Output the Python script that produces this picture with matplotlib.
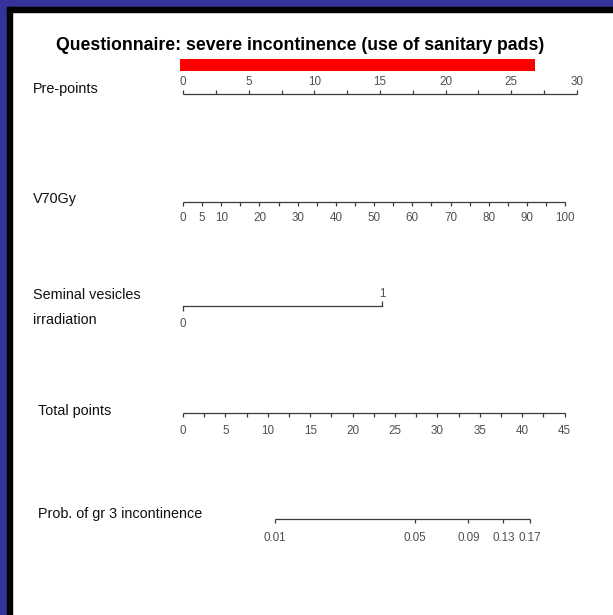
"""
Nomogram: severe incontinence (use of sanitary pads) after irradiation.

Each predictor is drawn on its own horizontal scale, converted to points,
summed into total points and mapped to a probability through the logistic
linear predictor.
"""

import matplotlib.pyplot as plt
from matplotlib.patches import Rectangle
import numpy as np

plt.rcParams["font.family"] = ["Liberation Sans", "DejaVu Sans"]

# =========================
# DATA
# =========================

TITLE = "Questionnaire: severe incontinence (use of sanitary pads)"

# Points scale
PRE_POINTS_MAX = 30
PRE_POINTS_TICKS = np.arange(0, 30.01, 2.5)
PRE_POINTS_LABELS = [0, 5, 10, 15, 20, 25, 30]
# Highlighted range on the points scale
RED_BAR = (-0.2, 26.8)

# V70Gy (% volume): 0..100 maps to 0..29.1 points
V70_RANGE = (0, 100)
V70_POINTS_AT_MAX = 29.1
V70_TICKS = np.arange(0, 100.01, 5)
V70_LABELS = [0, 5, 10, 20, 30, 40, 50, 60, 70, 80, 90, 100]

# Seminal vesicles irradiation: 0 / 1
SV_VALUES = [0, 1]
SV_POINTS = [0.0, 15.15]

# Total points scale
TOTAL_MAX = 45
TOTAL_POINTS_AT_MAX = 29.05
TOTAL_TICKS = np.arange(0, 45.01, 2.5)
TOTAL_LABELS = [0, 5, 10, 15, 20, 25, 30, 35, 40, 45]

# Probability: logit(p) = INTERCEPT + SLOPE * total points
LP_INTERCEPT = -5.68
LP_SLOPE = 0.1
PROB_TICKS = [0.01, 0.05, 0.09, 0.13, 0.17]

# =========================
# LAYOUT (figure pixels, y measured from top)
# =========================

W, H = 613, 615
PX_PER_POINT = (577 - 183) / PRE_POINTS_MAX
X0_PX = 183

ROW_Y = {
    "pre": 94,
    "v70": 202,
    "sv": 306,
    "total": 413,
    "prob": 519,
}

LINE_COLOR = "#3a3a3a"
TICK_TEXT = "#505050"
TICK_LEN = 4
TICK_FS = 8.4
LABEL_FS = 10.4


def total_to_points(t):
    return np.asarray(t, dtype=float) * TOTAL_POINTS_AT_MAX / TOTAL_MAX


def v70_to_points(v):
    return np.asarray(v, dtype=float) * V70_POINTS_AT_MAX / V70_RANGE[1]


def prob_to_total(p):
    p = np.asarray(p, dtype=float)
    return (np.log(p / (1 - p)) - LP_INTERCEPT) / LP_SLOPE


def draw_scale(ax, y, xs, labels_at, label_text, up=False, label_gap=15):
    """Horizontal scale line with ticks at xs and labels at labels_at."""
    xs = np.asarray(xs, dtype=float)
    ax.plot([xs.min(), xs.max()], [y, y], color=LINE_COLOR, lw=0.9,
            solid_capstyle="butt")
    sign = -1 if up else 1
    ax.vlines(xs, y, y + sign * TICK_LEN, color=LINE_COLOR, lw=0.9)
    for x, txt in zip(labels_at, label_text):
        ax.text(x, y + sign * label_gap, txt, ha="center", va="center",
                fontsize=TICK_FS, color=TICK_TEXT)


def main() -> None:
    fig = plt.figure(figsize=(W / 100, H / 100), dpi=100)
    fig.patch.set_facecolor("white")

    # Blue / black frame on top and left edges
    fig.patches.append(Rectangle((0, 1 - 7 / H), 1, 7 / H,
                                 transform=fig.transFigure,
                                 color="#333399", zorder=0))
    fig.patches.append(Rectangle((0, 0), 7 / W, 1,
                                 transform=fig.transFigure,
                                 color="#333399", zorder=0))
    fig.patches.append(Rectangle((7 / W, 1 - 12 / H), 1 - 7 / W, 5 / H,
                                 transform=fig.transFigure,
                                 color="black", zorder=0))
    fig.patches.append(Rectangle((7 / W, 0), 5 / W, 1 - 7 / H,
                                 transform=fig.transFigure,
                                 color="black", zorder=0))

    ax = fig.add_axes([0, 0, 1, 1])
    ax.set_xlim(-X0_PX / PX_PER_POINT, (W - X0_PX) / PX_PER_POINT)
    ax.set_ylim(H, 0)
    ax.axis("off")

    label_x = (33 - X0_PX) / PX_PER_POINT

    ax.text((300 - X0_PX) / PX_PER_POINT, 46, TITLE, ha="center",
            va="center", fontsize=12.7, fontweight="bold", color="black")

    # Red highlight bar above the points scale
    ax.add_patch(Rectangle((RED_BAR[0], 59), RED_BAR[1] - RED_BAR[0], 12,
                           color="#ff0000", lw=0))

    # Pre-points
    y = ROW_Y["pre"]
    draw_scale(ax, y, PRE_POINTS_TICKS, PRE_POINTS_LABELS,
               [str(v) for v in PRE_POINTS_LABELS], up=True, label_gap=12)
    ax.text(label_x, 89, "Pre-points", ha="left", va="center",
            fontsize=LABEL_FS, color="#111111")

    # V70Gy
    y = ROW_Y["v70"]
    draw_scale(ax, y, v70_to_points(V70_TICKS), v70_to_points(V70_LABELS),
               [str(v) for v in V70_LABELS], label_gap=16)
    ax.text(label_x, 199, "V70Gy", ha="left", va="center",
            fontsize=LABEL_FS, color="#111111")

    # Seminal vesicles irradiation
    y = ROW_Y["sv"]
    ax.plot(SV_POINTS, [y, y], color=LINE_COLOR, lw=0.9)
    ax.vlines(SV_POINTS[0], y, y + TICK_LEN + 1, color=LINE_COLOR, lw=0.9)
    ax.vlines(SV_POINTS[1], y, y - TICK_LEN - 1, color=LINE_COLOR, lw=0.9)
    ax.text(SV_POINTS[0], y + 18, str(SV_VALUES[0]), ha="center",
            va="center", fontsize=TICK_FS, color=TICK_TEXT)
    ax.text(SV_POINTS[1], y - 12, str(SV_VALUES[1]), ha="center",
            va="center", fontsize=TICK_FS, color=TICK_TEXT)
    ax.text(label_x, 295, "Seminal vesicles", ha="left", va="center",
            fontsize=LABEL_FS, color="#111111")
    ax.text(label_x, 320, "irradiation", ha="left", va="center",
            fontsize=LABEL_FS, color="#111111")

    # Total points
    y = ROW_Y["total"]
    draw_scale(ax, y, total_to_points(TOTAL_TICKS),
               total_to_points(TOTAL_LABELS),
               [str(v) for v in TOTAL_LABELS], label_gap=18)
    ax.text((38 - X0_PX) / PX_PER_POINT, 411, "Total points", ha="left",
            va="center", fontsize=LABEL_FS, color="#111111")

    # Probability
    y = ROW_Y["prob"]
    prob_x = total_to_points(prob_to_total(PROB_TICKS))
    draw_scale(ax, y, prob_x, prob_x, [f"{p:g}" for p in PROB_TICKS],
               label_gap=19)
    ax.text((38 - X0_PX) / PX_PER_POINT, 514, "Prob. of gr 3 incontinence",
            ha="left", va="center", fontsize=LABEL_FS, color="#111111")

    fig.savefig("out.png", dpi=100, facecolor="white")


if __name__ == "__main__":
    main()
